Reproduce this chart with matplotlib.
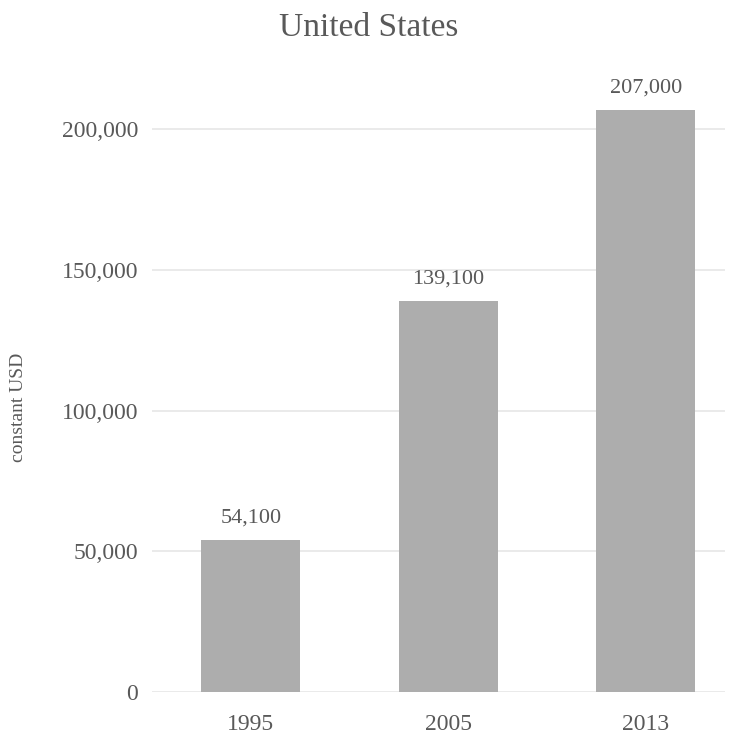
import matplotlib
matplotlib.use("Agg")
import matplotlib.pyplot as plt
from matplotlib.ticker import FuncFormatter

years = ["1995", "2005", "2013"]
values = [54100, 139100, 207000]
yticks = [0, 50000, 100000, 150000, 200000]

TEXT = "#595959"
BAR = "#ADADAD"
GRID = "#E6E6E6"
FONT = ["Liberation Serif"]

fig = plt.figure(figsize=(7.38, 7.36), dpi=100)
ax = fig.add_axes([0.206, 0.0598, 0.776, 0.841])

x = list(range(len(years)))
ax.bar(x, values, width=0.5, color=BAR, zorder=3)
for xi, v in zip(x, values):
    ax.annotate(f"{v:,}", (xi, v), xytext=(0, 9), textcoords="offset points",
                ha="center", va="bottom", fontsize=16, color=TEXT, family=FONT)

ax.set_xlim(-0.5, 2.4)
ax.set_ylim(0, 220000)
ax.set_yticks(yticks)
ax.yaxis.set_major_formatter(FuncFormatter(lambda v, p: f"{int(v):,}"))
ax.set_xticks(x)
ax.set_xticklabels(years)
ax.grid(axis="y", color=GRID, linewidth=1.2, zorder=0)
for s in ax.spines.values():
    s.set_visible(False)
ax.tick_params(length=0, labelsize=17, colors=TEXT)
ax.tick_params(axis="x", pad=16)
ax.tick_params(axis="y", pad=10)
for lab in ax.get_xticklabels() + ax.get_yticklabels():
    lab.set_family(FONT)

ax.set_ylabel("constant USD", fontsize=14, color=TEXT, family=FONT)
ax.yaxis.set_label_coords(-0.218, 0.46)

fig.text(0.5, 0.962, "United States", ha="center", va="center", fontsize=24,
         color=TEXT, family=FONT)

fig.savefig("out.png", dpi=100)
